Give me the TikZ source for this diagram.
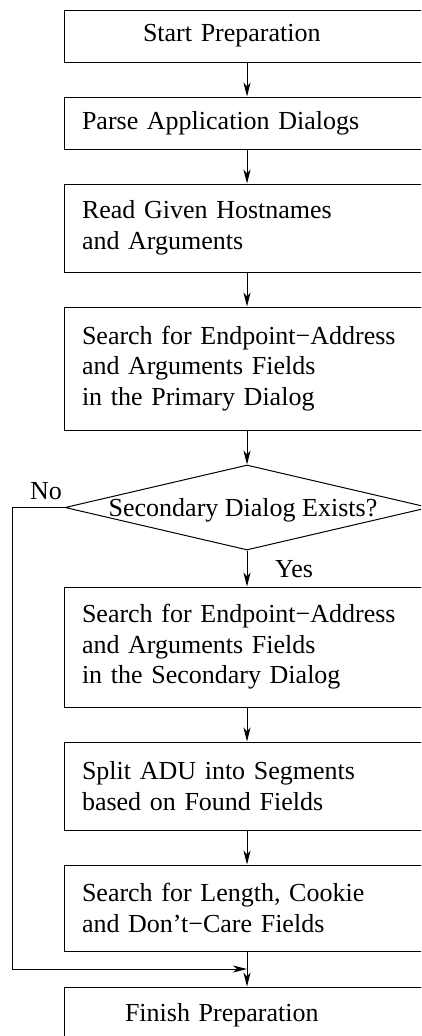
\documentclass[tikz,border=0pt]{standalone}
\usepackage{fontspec}
\setmainfont{Liberation Serif}
\usetikzlibrary{arrows.meta,shapes.geometric,calc}
\begin{document}
\begin{tikzpicture}[x=1pt,y=-1pt,
  every node/.style={font=\fontsize{26}{30.5}\selectfont},
  stepbox/.style={draw, line width=1pt, rectangle, minimum width=366pt,
    text width=330pt, inner xsep=18pt, inner ysep=0pt, align=left},
  decision/.style={draw, line width=1pt, diamond, minimum width=364pt,
    minimum height=85pt, inner sep=0pt},
  flow/.style={line width=1pt, -{Stealth[length=14pt,width=7pt,inset=4pt]}},
  tag/.style={inner sep=0pt}
]
% page frame; the flow chart runs past the right and bottom edges
\useasboundingbox (0,0) rectangle (421,1036);
\clip (0,0) rectangle (421,1036);

% process steps
\node[stepbox, minimum height=52pt] (b1) at (247,36) {\hspace*{61pt}Start Preparation};
\node[stepbox, minimum height=52pt] (b2) at (247,123) {Parse Application Dialogs};
\node[stepbox, minimum height=88pt] (b3) at (247,228) {Read Given Hostnames\\and Arguments};
\node[stepbox, minimum height=123pt] (b4) at (247,368.5) {Search for Endpoint−Address\\and Arguments Fields\\in the Primary Dialog};
\node[decision] (dia) at (247,507.5) {};
\node[tag] (qtext) at (243,510.5) {Secondary Dialog Exists?};
\node[stepbox, minimum height=120pt] (b5) at (247,647) {Search for Endpoint−Address\\and Arguments Fields\\in the Secondary Dialog};
\node[stepbox, minimum height=88pt] (b6) at (247,786) {Split ADU into Segments\\based on Found Fields};
\node[stepbox, minimum height=86pt] (b7) at (247,908) {Search for Length, Cookie\\and Don’t−Care Fields};
\node[stepbox, minimum height=56pt] (b8) at (247,1015) {\hspace*{43pt}Finish Preparation};

% branch labels
\node[tag, anchor=base] (no) at (46,499) {No};
\node[tag, anchor=base west] (yes) at (275,577) {Yes};

% connectors
\coordinate (join) at ($(b7.south)!0.5!(b8.north)$);
\draw[flow] (b1) -- (b2);
\draw[flow] (b2) -- (b3);
\draw[flow] (b3) -- (b4);
\draw[flow] (b4) -- (dia);
\draw[flow] (dia) -- (b5);
\draw[flow] (b5) -- (b6);
\draw[flow] (b6) -- (b7);
\draw[flow] (b7) -- (b8);
\draw[flow] (dia.west) -- ++(-52,0) |- (join);
\end{tikzpicture}
\end{document}
